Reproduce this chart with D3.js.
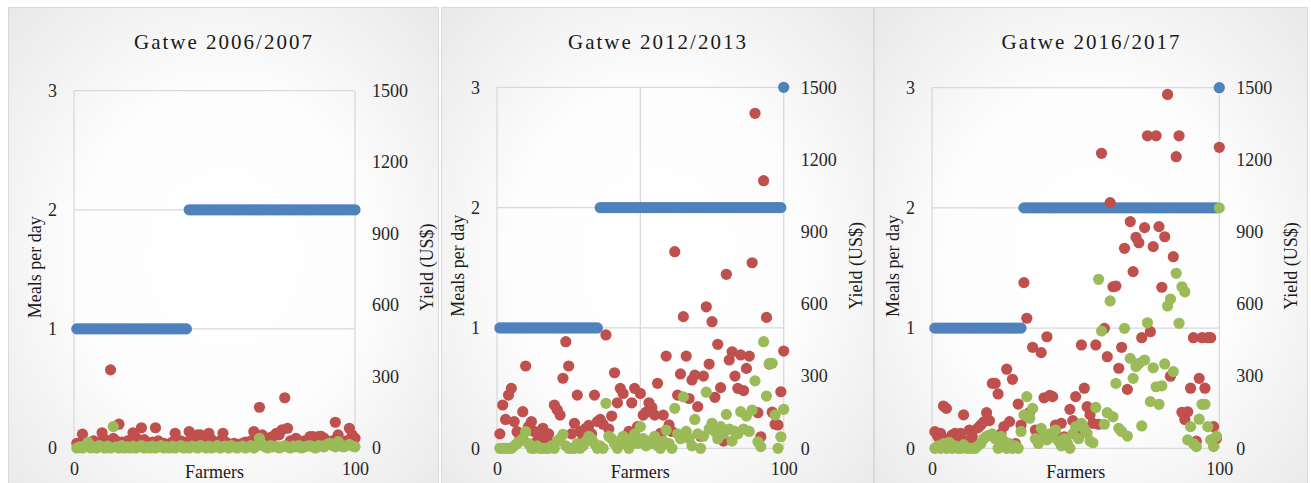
<!DOCTYPE html>
<html><head><meta charset="utf-8">
<script src="https://cdn.jsdelivr.net/npm/d3@7"></script>
<style>
html,body{margin:0;padding:0;background:#fff;}
svg{display:block;font-family:"Liberation Serif","Times New Roman",serif;}
</style></head>
<body>
<svg id="chart" width="1311" height="483"></svg>
<script>
// ---- data ----
const farmers = [1,2,3,4,5,6,7,8,9,10,11,12,13,14,15,16,17,18,19,20,21,22,23,24,25,26,27,28,29,30,31,32,33,34,35,36,37,38,39,40,41,42,43,44,45,46,47,48,49,50,51,52,53,54,55,56,57,58,59,60,61,62,63,64,65,66,67,68,69,70,71,72,73,74,75,76,77,78,79,80,81,82,83,84,85,86,87,88,89,90,91,92,93,94,95,96,97,98,99,100];
const titles = ["Gatwe 2006/2007","Gatwe 2012/2013","Gatwe 2016/2017"];
const mealTicks = [0,1,2,3];
const yieldTicks = [0,300,600,900,1200,1500];
const farmerTicks = [0,100];

const meals2006 = [1,1,1,1,1,1,1,1,1,1,1,1,1,1,1,1,1,1,1,1,1,1,1,1,1,1,1,1,1,1,1,1,1,1,1,1,1,1,1,1,2,2,2,2,2,2,2,2,2,2,2,2,2,2,2,2,2,2,2,2,2,2,2,2,2,2,2,2,2,2,2,2,2,2,2,2,2,2,2,2,2,2,2,2,2,2,2,2,2,2,2,2,2,2,2,2,2,2,2,2];
const yieldA2006 = [20,15,58,25,10,18,30,12,25,64,35,20,328,40,30,100,25,15,30,20,64,45,20,85,35,20,10,25,85,30,15,20,10,15,25,62,20,30,15,25,69,40,20,55,55,30,20,62,35,15,20,30,62,25,10,15,20,10,15,20,25,15,30,69,40,171,55,30,20,45,50,62,55,76,211,83,30,20,41,25,15,30,20,48,48,25,48,49,41,20,15,30,108,55,25,20,30,83,55,41];
const yieldB2006 = [0,5,0,10,24,0,5,0,10,5,0,8,0,90,5,0,10,0,5,0,8,0,5,10,0,5,0,8,0,5,10,0,5,0,8,0,5,10,0,5,0,8,5,0,10,5,0,8,0,5,10,0,5,8,0,10,5,0,5,8,0,5,10,0,8,41,15,5,0,10,5,8,0,5,10,5,0,8,5,10,0,5,8,10,5,0,10,8,5,15,20,10,5,27,8,5,10,15,8,5];

const meals2012 = [1,1,1,1,1,1,1,1,1,1,1,1,1,1,1,1,1,1,1,1,1,1,1,1,1,1,1,1,1,1,1,1,1,1,1,2,2,2,2,2,2,2,2,2,2,2,2,2,2,2,2,2,2,2,2,2,2,2,2,2,2,2,2,2,2,2,2,2,2,2,2,2,2,2,2,2,2,2,2,2,2,2,2,2,2,2,2,2,2,2,2,2,2,2,2,2,2,2,2,3];
const yieldA2012 = [60,180,120,221,249,111,69,40,152,342,90,111,70,30,50,83,40,60,20,180,160,138,291,443,342,60,104,221,70,50,83,95,60,221,111,120,100,471,80,134,314,189,249,228,40,70,189,249,90,228,138,150,189,170,138,270,62,138,383,97,70,817,221,309,547,383,207,284,304,173,50,300,588,350,526,212,432,252,30,723,367,401,300,249,388,240,332,383,771,1392,148,48,1112,544,350,150,100,97,235,404];
const yieldB2012 = [0,0,0,0,0,10,20,30,40,69,20,0,0,10,0,0,0,0,10,0,30,40,58,10,0,0,0,20,0,10,30,50,40,20,0,10,0,187,50,40,20,0,30,50,20,0,40,60,20,90,40,10,30,20,50,10,0,30,76,20,0,166,60,40,214,70,40,10,120,60,0,50,233,80,104,70,40,90,60,141,80,30,70,60,152,80,134,70,159,280,27,7,443,217,353,353,138,0,48,162];

const meals2016 = [1,1,1,1,1,1,1,1,1,1,1,1,1,1,1,1,1,1,1,1,1,1,1,1,1,1,1,1,1,1,1,2,2,2,2,2,2,2,2,2,2,2,2,2,2,2,2,2,2,2,2,2,2,2,2,2,2,2,2,2,2,2,2,2,2,2,2,2,2,2,2,2,2,2,2,2,2,2,2,2,2,2,2,2,2,2,2,2,2,2,2,2,2,2,2,2,2,2,2,3];
const yieldA2016 = [69,50,62,176,166,40,55,62,40,62,139,30,76,50,20,85,97,110,148,115,270,270,226,60,90,329,111,287,20,184,97,689,541,150,420,76,60,398,210,464,220,215,97,40,104,48,20,162,115,215,55,430,250,173,140,104,430,100,1227,499,381,1022,672,675,333,420,832,245,943,735,878,855,460,918,1300,485,839,1300,922,670,880,1472,300,797,1213,1300,150,120,152,250,460,30,291,460,250,460,460,90,41,1252];
const yieldB2016 = [0,10,0,20,0,25,0,10,0,0,15,0,0,0,0,10,20,40,50,55,60,40,0,50,30,0,20,0,10,0,70,139,215,125,166,40,20,83,50,35,60,46,76,30,10,40,20,0,60,90,40,104,80,62,30,23,170,703,488,100,148,613,131,270,83,70,499,51,374,291,340,353,93,367,522,194,335,256,183,260,351,592,621,319,728,520,672,651,35,90,20,7,121,183,183,90,35,7,50,1000];

// ---- layout ----
const panels = [
  {title:titles[0], meals:meals2006, ya:yieldA2006, yb:yieldB2006, x0:8,   x1:438,  L:74,  R:355,   T:90.7, B:448,   vgrid:[0,100]},
  {title:titles[1], meals:meals2012, ya:yieldA2012, yb:yieldB2012, x0:441, x1:873,  L:497, R:783.7, T:87.3, B:448.3, vgrid:[0,50,100]},
  {title:titles[2], meals:meals2016, ya:yieldA2016, yb:yieldB2016, x0:874, x1:1307, L:932, R:1219.3,T:87.7, B:448.3, vgrid:[0,100]}
];
const COLORS = {meals:"#4f81bd", a:"#c0504d", b:"#9bbb59"};
const svg = d3.select("#chart");
const defs = svg.append("defs");
const grad = defs.append("radialGradient").attr("id","bg").attr("cx","50%").attr("cy","50%").attr("r","75%");
grad.append("stop").attr("offset","0%").attr("stop-color","#ffffff");
grad.append("stop").attr("offset","45%").attr("stop-color","#fdfdfd");
grad.append("stop").attr("offset","100%").attr("stop-color","#e6e6e6");

const R = 5.6;
panels.forEach(p=>{
  const g = svg.append("g");
  g.append("rect").attr("x",p.x0+0.5).attr("y",7.5).attr("width",p.x1-p.x0).attr("height",500)
    .attr("fill","url(#bg)").attr("stroke","#d9d9d9").attr("stroke-width",1);
  const x = d3.scaleLinear().domain([0,100]).range([p.L,p.R]);
  const yl = d3.scaleLinear().domain([0,3]).range([p.B,p.T]);
  const yr = d3.scaleLinear().domain([0,1500]).range([p.B,p.T]);
  // gridlines
  g.append("g").selectAll("line.h").data(mealTicks).join("line")
    .attr("x1",p.L).attr("x2",p.R).attr("y1",d=>yl(d)).attr("y2",d=>yl(d))
    .attr("stroke","#d9d9d9").attr("stroke-width",1.3);
  g.append("g").selectAll("line.v").data(p.vgrid).join("line")
    .attr("x1",d=>x(d)).attr("x2",d=>x(d)).attr("y1",p.T).attr("y2",p.B)
    .attr("stroke","#d9d9d9").attr("stroke-width",1.3);
  // axes
  const fontSize = "18px";
  const ax1 = g.append("g").attr("transform",`translate(${p.L},0)`)
    .call(d3.axisLeft(yl).tickValues(mealTicks).tickSize(0).tickPadding(17).tickFormat(d3.format("d")));
  const ax2 = g.append("g").attr("transform",`translate(${p.R},0)`)
    .call(d3.axisRight(yr).tickValues(yieldTicks).tickSize(0).tickPadding(17).tickFormat(d3.format("d")));
  const ax3 = g.append("g").attr("transform",`translate(0,${p.B})`)
    .call(d3.axisBottom(x).tickValues(farmerTicks).tickSize(0).tickPadding(14).tickFormat(d3.format("d")));
  [ax1,ax2,ax3].forEach(a=>{
    a.attr("font-family","Liberation Serif");
    a.select(".domain").remove();
    a.selectAll("text").attr("font-family","Liberation Serif").attr("font-size",fontSize).attr("fill","#262626");
  });
  // titles
  g.append("text").attr("x",(p.x0+p.x1)/2+1).attr("y",49).attr("text-anchor","middle")
    .attr("font-size","21px").attr("letter-spacing","2px").attr("fill","#1a1a1a").text(p.title);
  const cy = (p.T+p.B)/2 - 2;
  g.append("text").attr("transform",`translate(${p.L-33},${cy}) rotate(-90)`).attr("text-anchor","middle")
    .attr("font-size","18px").attr("fill","#1a1a1a").text("Meals per day");
  g.append("text").attr("transform",`translate(${p.R+78},${cy}) rotate(-90)`).attr("text-anchor","middle")
    .attr("font-size","18px").attr("fill","#1a1a1a").text("Yield (US$)");
  g.append("text").attr("x",(p.L+p.R)/2).attr("y",478).attr("text-anchor","middle")
    .attr("font-size","18px").attr("fill","#1a1a1a").text("Farmers");
  // series
  g.append("g").selectAll("circle").data(farmers).join("circle")
    .attr("cx",(d)=>x(d)).attr("cy",(d,i)=>yl(p.meals[i])).attr("r",R).attr("fill",COLORS.meals);
  g.append("g").selectAll("circle").data(farmers).join("circle")
    .attr("cx",(d)=>x(d)).attr("cy",(d,i)=>yr(p.ya[i])).attr("r",R).attr("fill",COLORS.a);
  g.append("g").selectAll("circle").data(farmers).join("circle")
    .attr("cx",(d)=>x(d)).attr("cy",(d,i)=>yr(p.yb[i])).attr("r",R).attr("fill",COLORS.b);
});
</script>
</body></html>
